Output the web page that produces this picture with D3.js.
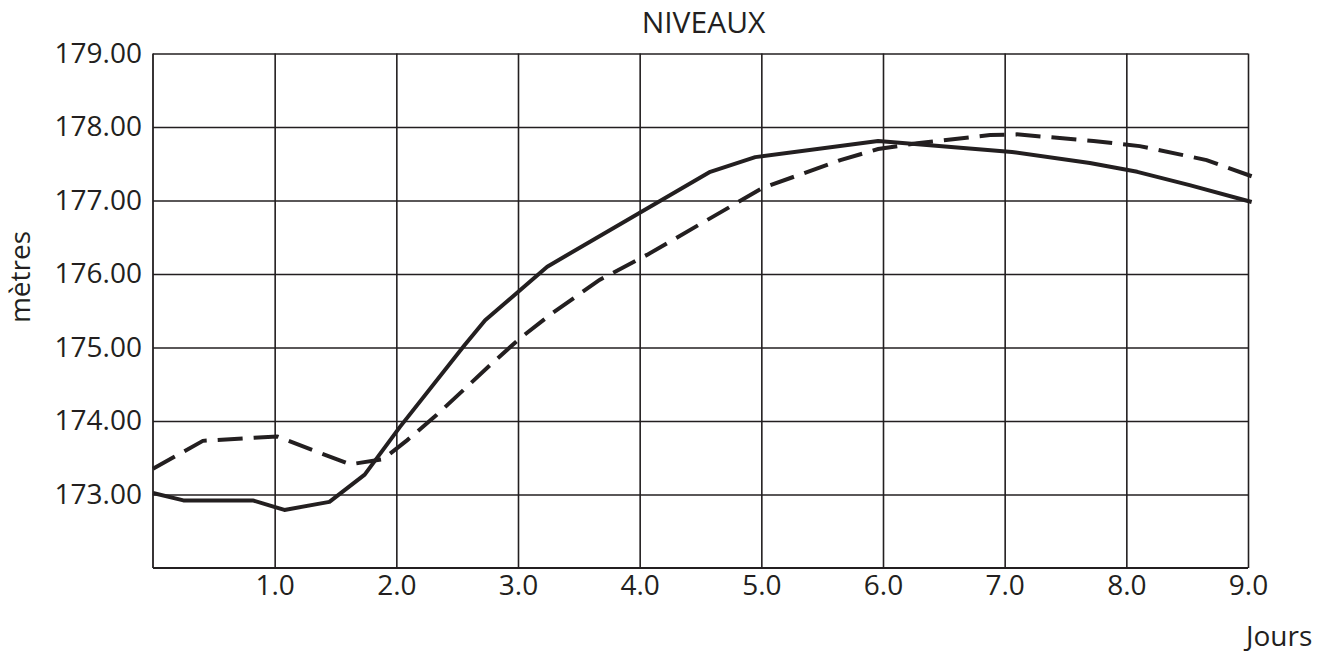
<!DOCTYPE html>
<html>
<head>
<meta charset="utf-8">
<script src="https://cdn.jsdelivr.net/npm/d3@7"></script>
<style>
  body { margin: 0; background: #fff; }
  svg { display: block; font-family: 'Open Sans', sans-serif; }
</style>
</head>
<body>
<svg id="chart" width="1332" height="656"></svg>
<script>
// values (jours, mètres)
const solidDays = [0, 0.25, 0.82, 1.08, 1.45, 1.74, 2.03, 2.56, 2.73, 3.24, 4.58, 4.95, 5.96, 7.06, 7.70, 8.09, 8.52, 9.03];
const solidLevels = [173.02, 172.92, 172.92, 172.79, 172.90, 173.27, 173.92, 175.03, 175.37, 176.10, 177.39, 177.59, 177.81, 177.66, 177.51, 177.39, 177.21, 176.98];

const dashedDays = [0, 0.41, 1.02, 1.62, 1.89, 2.09, 2.33, 2.79, 3.02, 3.26, 3.67, 4.06, 5.01, 5.65, 5.96, 6.28, 6.88, 7.10, 7.73, 8.11, 8.66, 9.03];
const dashedLevels = [173.35, 173.73, 173.79, 173.41, 173.48, 173.74, 174.08, 174.79, 175.13, 175.44, 175.92, 176.26, 177.17, 177.55, 177.70, 177.78, 177.89, 177.90, 177.81, 177.74, 177.55, 177.33];

const xTicks = [1, 2, 3, 4, 5, 6, 7, 8, 9];
const yTicks = [173, 174, 175, 176, 177, 178, 179];

const ink = '#231f20';
const margin = { top: 53.5, right: 84, bottom: 88, left: 153 };
const width = 1332 - margin.left - margin.right;
const height = 656 - margin.top - margin.bottom;

const svg = d3.select('#chart');
const g = svg.append('g')
  .attr('transform', 'translate(' + margin.left + ',' + margin.top + ')');

const x = d3.scaleLinear().domain([0, 9]).range([0, width]);
const y = d3.scaleLinear().domain([172, 179]).range([height, 0]);

// grid + labels via axes
const xAxis = g.append('g')
  .attr('transform', 'translate(0,' + height + ')')
  .call(d3.axisBottom(x)
    .tickValues(xTicks)
    .tickSize(-height)
    .tickPadding(7)
    .tickFormat(d3.format('.1f')));

const yAxis = g.append('g')
  .call(d3.axisLeft(y)
    .tickValues(yTicks)
    .tickSize(-width)
    .tickPadding(11)
    .tickFormat(d3.format('.2f')));

[xAxis, yAxis].forEach(function (a) {
  a.select('.domain').remove();
  a.selectAll('line').attr('stroke', ink).attr('stroke-width', 1.6);
  a.selectAll('text')
    .attr('fill', ink)
    .style('font-size', '28px')
    .style('font-family', "'Open Sans', sans-serif");
});

// frame: left and bottom axis lines
g.append('line')
  .attr('x1', 0).attr('x2', 0)
  .attr('y1', 0).attr('y2', height)
  .attr('stroke', ink).attr('stroke-width', 1.8);
g.append('line')
  .attr('x1', 0).attr('x2', width)
  .attr('y1', height).attr('y2', height)
  .attr('stroke', ink).attr('stroke-width', 1.8);

const line = d3.line()
  .x(function (d) { return x(d[0]); })
  .y(function (d) { return y(d[1]); });

const solid = d3.zip(solidDays, solidLevels);
const dashed = d3.zip(dashedDays, dashedLevels);

g.append('path')
  .datum(dashed)
  .attr('d', line)
  .attr('fill', 'none')
  .attr('stroke', ink)
  .attr('stroke-width', 4)
  .attr('stroke-dasharray', '25,11');

g.append('path')
  .datum(solid)
  .attr('d', line)
  .attr('fill', 'none')
  .attr('stroke', ink)
  .attr('stroke-width', 4)
  .attr('stroke-linejoin', 'round');

// titles
svg.append('text')
  .attr('x', margin.left + width / 2 + 3)
  .attr('y', 33)
  .attr('text-anchor', 'middle')
  .attr('fill', ink)
  .style('font-size', '30px')
  .text('NIVEAUX');

svg.append('text')
  .attr('transform', 'translate(30,277) rotate(-90)')
  .attr('text-anchor', 'middle')
  .attr('fill', ink)
  .style('font-size', '28px')
  .text('mètres');

svg.append('text')
  .attr('x', 1246)
  .attr('y', 646)
  .attr('fill', ink)
  .style('font-size', '28px')
  .text('Jours');
</script>
</body>
</html>
